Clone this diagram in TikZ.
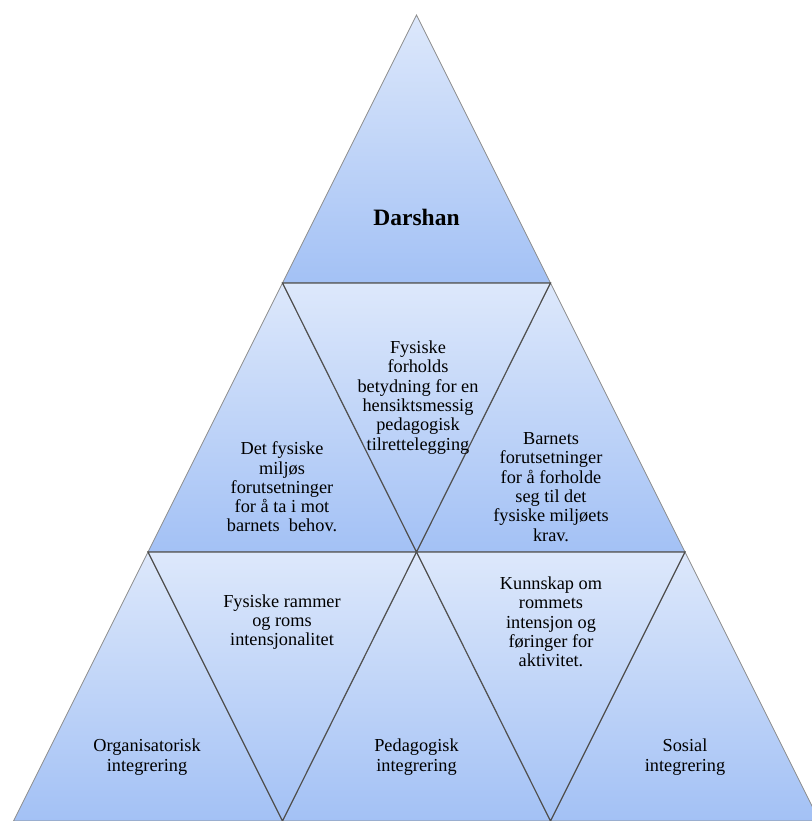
\documentclass[tikz,border=0pt]{standalone}
\usepackage{fontspec}
\setmainfont{LiberationSerif}[Extension=.ttf, UprightFont=*-Regular, BoldFont=*-Bold, ItalicFont=*-Italic, BoldItalicFont=*-BoldItalic]
\definecolor{gtop}{HTML}{DDE8FB}
\definecolor{gbot}{HTML}{A3C1F5}
\definecolor{upline}{HTML}{8C8C8C}
\definecolor{downline}{HTML}{505050}
\begin{document}
\begin{tikzpicture}[x=1pt,y=-1pt,
  uptri/.style={draw=upline, line width=0.8pt, top color=gtop, bottom color=gbot, line join=miter},
  downtri/.style={draw=downline, line width=1.2pt, top color=gtop, bottom color=gbot, line join=miter},
  lbl/.style={align=center, inner sep=0pt, text=black, font=\rmfamily\fontsize{18.3}{19.3}\selectfont}]
\useasboundingbox (0,0) rectangle (811,821);
% vertices
\coordinate (A) at (416.5,15);
\coordinate (L1) at (282.5,283);
\coordinate (R1) at (550.5,283);
\coordinate (L2) at (148,552);
\coordinate (M2) at (416.5,552);
\coordinate (R2) at (685,552);
\coordinate (B0) at (13.5,821);
\coordinate (B1) at (282.5,821);
\coordinate (B2) at (550.5,821);
\coordinate (B3) at (819.5,821);
% upright triangles
\path[uptri] (A) -- (R1) -- (L1) -- cycle;
\path[uptri] (L1) -- (M2) -- (L2) -- cycle;
\path[uptri] (R1) -- (R2) -- (M2) -- cycle;
\path[uptri] (L2) -- (B1) -- (B0) -- cycle;
\path[uptri] (M2) -- (B2) -- (B1) -- cycle;
\path[uptri] (R2) -- (B3) -- (B2) -- cycle;
% inverted triangles
\path[downtri] (L1) -- (R1) -- (M2) -- cycle;
\path[downtri] (L2) -- (M2) -- (B1) -- cycle;
\path[downtri] (M2) -- (R2) -- (B2) -- cycle;
% labels
\node[lbl, font=\rmfamily\bfseries\fontsize{23.5}{26}\selectfont] (t0) at (416.5,217) {Darshan};
\node[lbl] (t1) at (418,397.5) {Fysiske\\forholds\\betydning for en\\hensiktsmessig\\pedagogisk\\tilrettelegging};
\node[lbl] (t2) at (282,487) {Det fysiske\\miljøs\\forutsetninger\\for å ta i mot\\barnets\ \ behov.};
\node[lbl] (t3) at (551,487) {Barnets\\forutsetninger\\for å forholde\\seg til det\\fysiske miljøets\\krav.};
\node[lbl] (t4) at (282,622) {Fysiske rammer\\og roms\\intensjonalitet};
\node[lbl] (t5) at (551,622) {Kunnskap om\\rommets\\intensjon og\\føringer for\\aktivitet.};
\node[lbl] (t6) at (147,757) {Organisatorisk\\integrering};
\node[lbl] (t7) at (416.5,757) {Pedagogisk\\integrering};
\node[lbl] (t8) at (685,757) {Sosial\\integrering};
\end{tikzpicture}
\end{document}
